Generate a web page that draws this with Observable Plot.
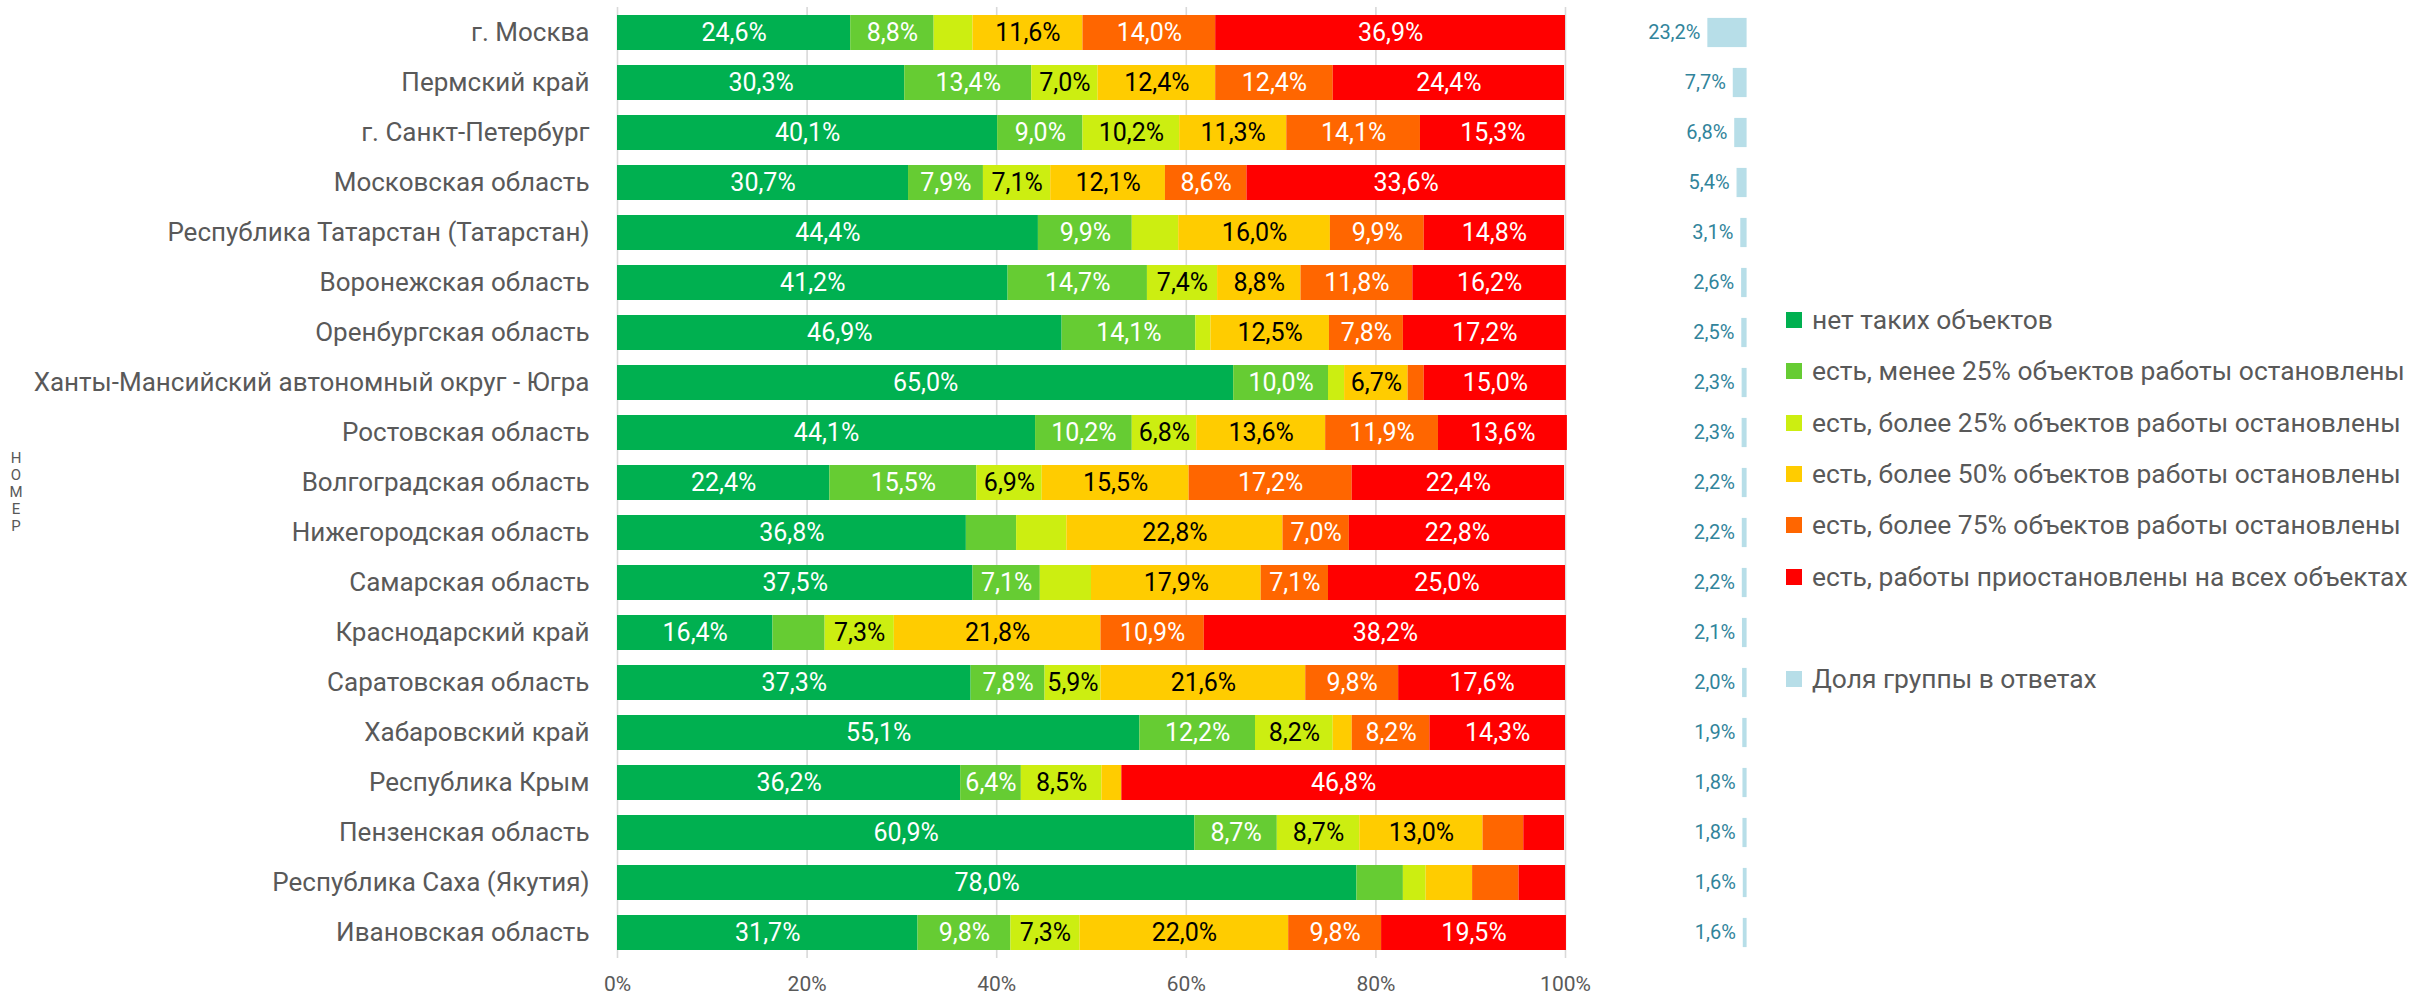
<!DOCTYPE html>
<html>
<head>
<meta charset="utf-8">
<script src="https://cdn.jsdelivr.net/npm/d3@7"></script>
<script src="https://cdn.jsdelivr.net/npm/@observablehq/plot@0.6"></script>
<style>
  html, body { margin: 0; padding: 0; background: #fff; }
  #root { position: relative; width: 2415px; height: 998px; overflow: hidden; font-family: Roboto, sans-serif; }
  #root svg { position: absolute; top: 0; }
  .leg { position: absolute; left: 1786px; display: flex; align-items: center; font-size: 26.4px; color: #595959; white-space: nowrap; transform: translateY(-50%); }
  .leg i { display: inline-block; width: 16px; height: 16px; margin-right: 10px; }
  #nomer { position: absolute; left: 8px; top: 449px; font-size: 15px; color: #595959; writing-mode: vertical-rl; text-orientation: upright; letter-spacing: -1px; line-height: 1; }
</style>
</head>
<body>
<div id="root"></div>
<script>
// ---- data ----
const regions = [
  "г. Москва", "Пермский край", "г. Санкт-Петербург", "Московская область",
  "Республика Татарстан (Татарстан)", "Воронежская область", "Оренбургская область",
  "Ханты-Мансийский автономный округ - Югра", "Ростовская область", "Волгоградская область",
  "Нижегородская область", "Самарская область", "Краснодарский край", "Саратовская область",
  "Хабаровский край", "Республика Крым", "Пензенская область", "Республика Саха (Якутия)",
  "Ивановская область"
];
const seriesNames = [
  "нет таких объектов",
  "есть, менее 25% объектов работы остановлены",
  "есть, более 25% объектов работы остановлены",
  "есть, более 50% объектов работы остановлены",
  "есть, более 75% объектов работы остановлены",
  "есть, работы приостановлены на всех объектах"
];
const noObjects   = [24.6, 30.3, 40.1, 30.7, 44.4, 41.2, 46.9, 65.0, 44.1, 22.4, 36.8, 37.5, 16.4, 37.3, 55.1, 36.2, 60.9, 78.0, 31.7];
const less25      = [ 8.8, 13.4,  9.0,  7.9,  9.9, 14.7, 14.1, 10.0, 10.2, 15.5,  5.3,  7.1,  5.5,  7.8, 12.2,  6.4,  8.7,  4.9,  9.8];
const more25      = [ 4.1,  7.0, 10.2,  7.1,  4.9,  7.4,  1.6,  1.7,  6.8,  6.9,  5.3,  5.4,  7.3,  5.9,  8.2,  8.5,  8.7,  2.4,  7.3];
const more50      = [11.6, 12.4, 11.3, 12.1, 16.0,  8.8, 12.5,  6.7, 13.6, 15.5, 22.8, 17.9, 21.8, 21.6,  2.0,  2.1, 13.0,  4.9, 22.0];
const more75      = [14.0, 12.4, 14.1,  8.6,  9.9, 11.8,  7.8,  1.7, 11.9, 17.2,  7.0,  7.1, 10.9,  9.8,  8.2,  0.0,  4.3,  4.9,  9.8];
const allStopped  = [36.9, 24.4, 15.3, 33.6, 14.8, 16.2, 17.2, 15.0, 13.6, 22.4, 22.8, 25.0, 38.2, 17.6, 14.3, 46.8,  4.3,  4.9, 19.5];
const groupShare  = [23.2, 7.7, 6.8, 5.4, 3.1, 2.6, 2.5, 2.3, 2.3, 2.2, 2.2, 2.2, 2.1, 2.0, 1.9, 1.8, 1.8, 1.6, 1.6];
const shareLabel = "Доля группы в ответах";
const xTicks = [0, 20, 40, 60, 80, 100];
const axisNote = "НОМЕР";

// ---- styles ----
const colors = ["#00B050", "#66CC33", "#CCEE11", "#FFCC00", "#FF6600", "#FF0000"];
const shareColor = "#B7DEE8";
const shareText = "#31849B";
const darkText = new Set([2, 3]);

const seriesValues = [noObjects, less25, more25, more50, more75, allStopped];
const rows = [];
regions.forEach((r, i) => seriesValues.forEach((vals, s) => rows.push({region: r, series: seriesNames[s], s, value: vals[i]})));
const shareRows = regions.map((r, i) => ({region: r, share: groupShare[i]}));
const fmt = v => v.toFixed(1).replace(".", ",") + "%";

const yOpts = {domain: regions, paddingInner: 0.3, paddingOuter: 0.16};
const H = 998, MT = 7, MB = 40;

const main = Plot.plot({
  width: 1600, height: H,
  marginLeft: 617, marginRight: 35, marginTop: MT, marginBottom: MB,
  x: {domain: [0, 100], label: null},
  y: {...yOpts, label: null},
  color: {domain: seriesNames, range: colors},
  style: {fontFamily: "Roboto, sans-serif", color: "#595959", background: "transparent", overflow: "visible"},
  marks: [
    Plot.gridX(xTicks, {stroke: "#D9D9D9", strokeOpacity: 1, strokeWidth: 1.6}),
    Plot.barX(rows, Plot.stackX({x: "value", y: "region", fill: "series"})),
    Plot.text(rows, Plot.stackX({x: "value", y: "region",
      text: d => (d.value >= 5.8 && !darkText.has(d.s)) ? fmt(d.value) : null,
      fill: "white", fontSize: 25})),
    Plot.text(rows, Plot.stackX({x: "value", y: "region",
      text: d => (d.value >= 5.8 && darkText.has(d.s)) ? fmt(d.value) : null,
      fill: "black", fontSize: 25})),
    Plot.axisX(xTicks, {tickSize: 0, tickPadding: 18, fontSize: 21, tickFormat: d => d + "%", label: null}),
    Plot.axisY({tickSize: 0, tickPadding: 28, fontSize: 26, label: null})
  ]
});
main.style.left = "0px";

const side = Plot.plot({
  width: 150, height: H,
  marginLeft: 105, marginRight: 4, marginTop: MT, marginBottom: MB,
  x: {domain: [0, 25], reverse: true, axis: null},
  y: {...yOpts, axis: null},
  style: {fontFamily: "Roboto, sans-serif", background: "transparent", overflow: "visible"},
  marks: [
    Plot.barX(shareRows, {x: "share", y: "region", fill: shareColor, stroke: shareColor, strokeWidth: 1.2, insetTop: 3.5, insetBottom: 3.5}),
    Plot.text(shareRows, {x: "share", y: "region", text: d => fmt(d.share), textAnchor: "end", dx: -8, fill: shareText, fontSize: 20})
  ]
});
side.style.left = "1600px";

const root = document.getElementById("root");
root.appendChild(main);
root.appendChild(side);

// legend
const legTops = [320, 371, 423, 474, 525, 577];
seriesNames.forEach((name, i) => {
  const d = document.createElement("div");
  d.className = "leg";
  d.style.top = legTops[i] + "px";
  d.innerHTML = `<i style="background:${colors[i]}"></i><span></span>`;
  d.querySelector("span").textContent = name;
  root.appendChild(d);
});
const dl = document.createElement("div");
dl.className = "leg";
dl.style.top = "679px";
dl.innerHTML = `<i style="background:${shareColor}"></i><span></span>`;
dl.querySelector("span").textContent = shareLabel;
root.appendChild(dl);

const nm = document.createElement("div");
nm.id = "nomer";
nm.textContent = axisNote;
root.appendChild(nm);
</script>
</body>
</html>
